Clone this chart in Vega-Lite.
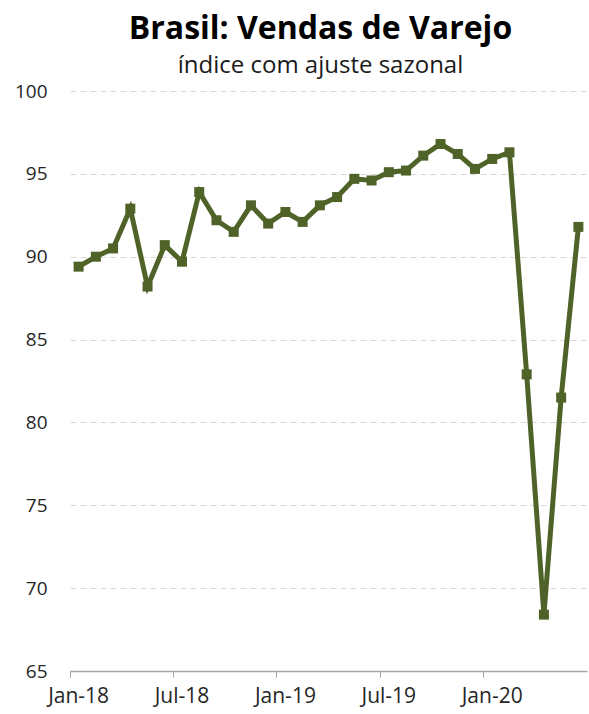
{
  "$schema": "https://vega.github.io/schema/vega-lite/v6.json",
  "width": 517,
  "height": 580,
  "autosize": {"type": "none"},
  "padding": {"left": 70, "top": 91, "right": 2, "bottom": 43},
  "background": "white",
  "title": {
    "text": "Brasil: Vendas de Varejo",
    "subtitle": "índice com ajuste sazonal",
    "font": "Open Sans",
    "fontSize": 32,
    "fontWeight": "bold",
    "color": "#000000",
    "subtitleFont": "Open Sans",
    "subtitleFontSize": 24,
    "subtitleColor": "#1a1a1a",
    "anchor": "middle",
    "frame": "group",
    "offset": 3,
    "subtitlePadding": 8,
    "dx": -8
  },
  "data": {
    "values": [
      {"month": "Jan-18", "value": 89.4},
      {"month": "Feb-18", "value": 90.0},
      {"month": "Mar-18", "value": 90.5},
      {"month": "Apr-18", "value": 92.9},
      {"month": "May-18", "value": 88.2},
      {"month": "Jun-18", "value": 90.7},
      {"month": "Jul-18", "value": 89.7},
      {"month": "Aug-18", "value": 93.9},
      {"month": "Sep-18", "value": 92.2},
      {"month": "Oct-18", "value": 91.5},
      {"month": "Nov-18", "value": 93.1},
      {"month": "Dec-18", "value": 92.0},
      {"month": "Jan-19", "value": 92.7},
      {"month": "Feb-19", "value": 92.1},
      {"month": "Mar-19", "value": 93.1},
      {"month": "Apr-19", "value": 93.6},
      {"month": "May-19", "value": 94.7},
      {"month": "Jun-19", "value": 94.6},
      {"month": "Jul-19", "value": 95.1},
      {"month": "Aug-19", "value": 95.2},
      {"month": "Sep-19", "value": 96.1},
      {"month": "Oct-19", "value": 96.8},
      {"month": "Nov-19", "value": 96.2},
      {"month": "Dec-19", "value": 95.3},
      {"month": "Jan-20", "value": 95.9},
      {"month": "Feb-20", "value": 96.3},
      {"month": "Mar-20", "value": 82.9},
      {"month": "Apr-20", "value": 68.4},
      {"month": "May-20", "value": 81.5},
      {"month": "Jun-20", "value": 91.8}
    ]
  },
  "encoding": {
    "x": {
      "field": "month",
      "type": "ordinal",
      "sort": null,
      "scale": {"type": "band", "paddingInner": 0, "paddingOuter": 0},
      "axis": {
        "title": null,
        "values": ["Jan-18", "Jul-18", "Jan-19", "Jul-19", "Jan-20"],
        "labelAngle": 0,
        "labelFont": "Open Sans",
        "labelFontSize": 21,
        "labelColor": "#262626",
        "labelPadding": 8,
        "bandPosition": 0,
        "tickExtra": true,
        "ticks": true,
        "tickSize": 6,
        "tickColor": "#a6a6a6",
        "domainColor": "#a6a6a6",
        "domainWidth": 1.5,
        "grid": false
      }
    },
    "y": {
      "field": "value",
      "type": "quantitative",
      "scale": {"domain": [65, 100], "nice": false, "zero": false},
      "axis": {
        "title": null,
        "values": [65, 70, 75, 80, 85, 90, 95, 100],
        "domain": false,
        "ticks": false,
        "grid": true,
        "gridDash": [6, 4],
        "gridColor": "#d9d9d9",
        "labelFont": "Open Sans",
        "labelFontSize": 19,
        "labelColor": "#262626",
        "labelPadding": 23
      }
    }
  },
  "layer": [
    {"mark": {"type": "line", "color": "#4f6228", "strokeWidth": 5}},
    {"mark": {"type": "square", "color": "#4f6228", "opacity": 1, "size": 100, "filled": true}}
  ],
  "config": {"view": {"stroke": null}}
}
